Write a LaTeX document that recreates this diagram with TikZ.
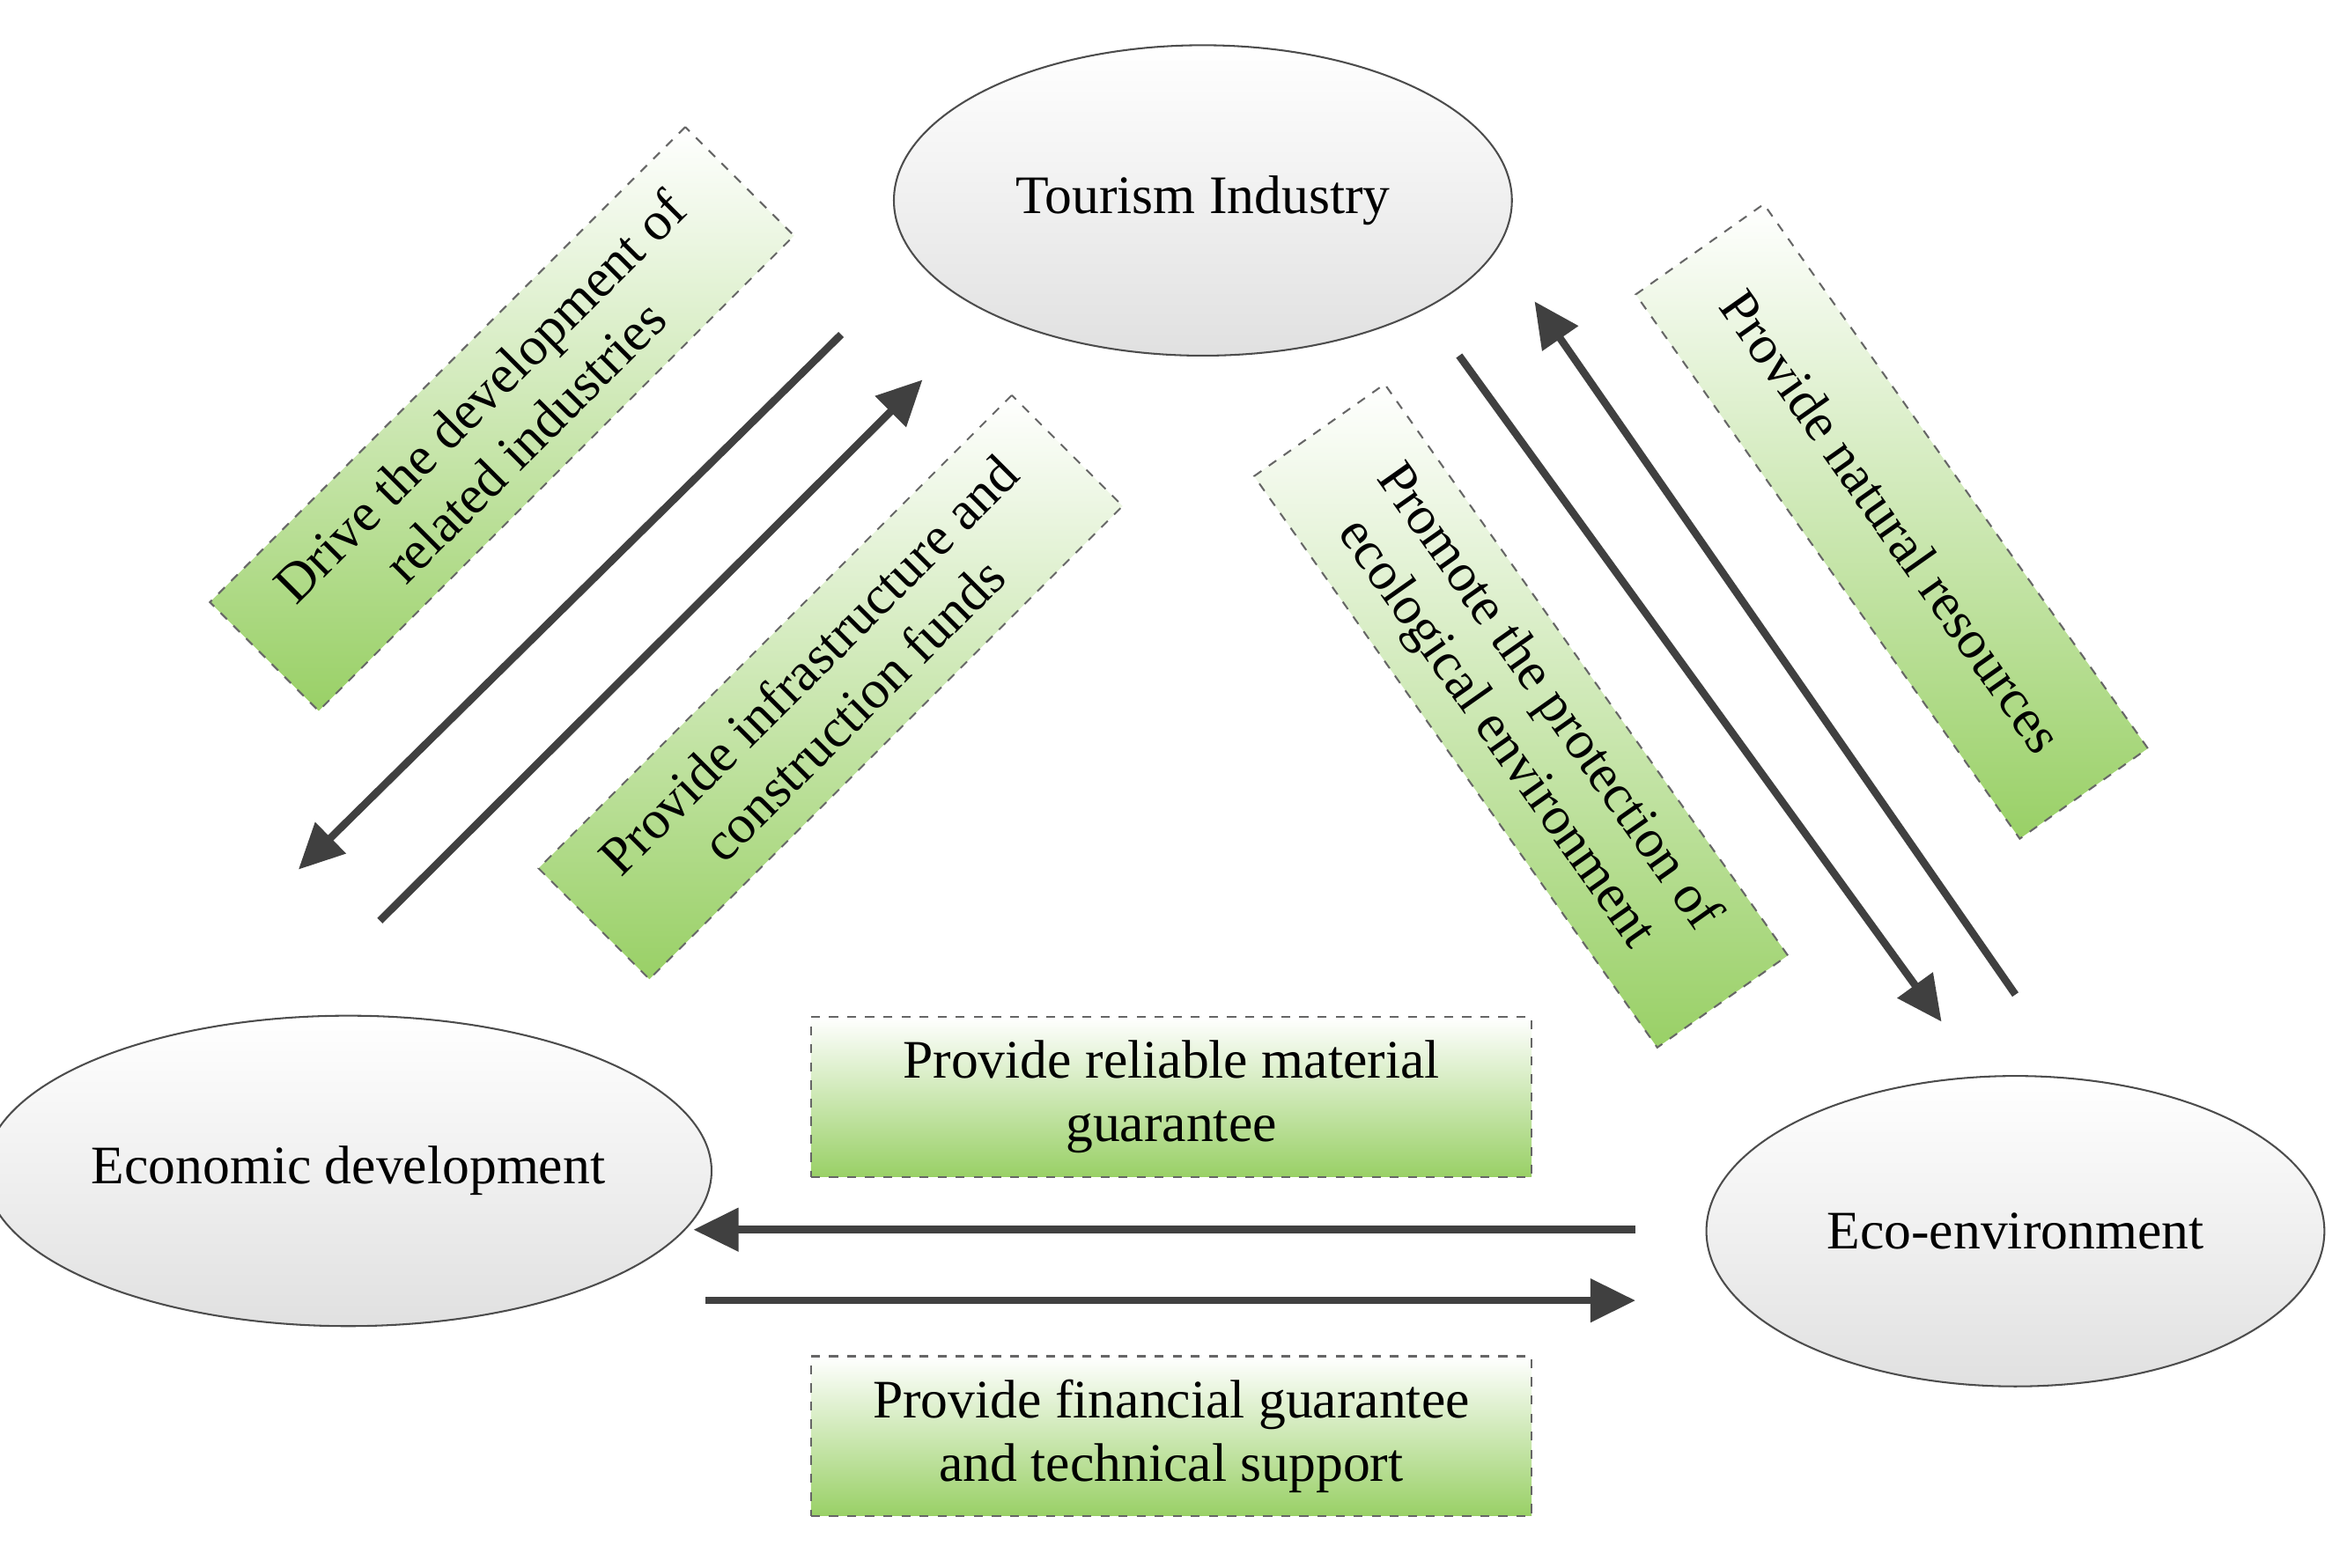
\documentclass[tikz,border=0pt]{standalone}
\usepackage{fontspec}
\setmainfont{Liberation Serif}
\usetikzlibrary{arrows.meta,shapes.geometric}
\definecolor{arr}{HTML}{404040}
\definecolor{grn}{HTML}{99D066}
\begin{document}
\begin{tikzpicture}[x=0.5pt,y=-0.5pt,
  ell/.style={ellipse,draw=black!70,line width=0.6pt,top color=white,bottom color=black!12,inner sep=0pt,minimum width=205pt,minimum height=103pt,font=\fontsize{18}{21}\selectfont},
  box/.style={draw=black!60,dashed,line width=0.6pt,top color=white,bottom color=grn,align=center,inner sep=0pt,font=\fontsize{18}{21}\selectfont},
  ar/.style={draw=arr,line width=2.5pt,-{Triangle[length=15pt,width=14pt]}}]
\useasboundingbox (0,0) rectangle (1557,1040);
\node[ell] (t) at (798,133) {Tourism Industry};
\node[ell] (e) at (231,777) {Economic development};
\node[ell] (v) at (1337,817) {Eco-environment};
\node[box,rotate=45,minimum width=223pt,minimum height=51pt] (b1) at (333,278) {Drive the development of\\related industries};
\node[box,rotate=45,minimum width=222pt,minimum height=52pt] (b2) at (551,456) {Provide infrastructure and\\construction funds};
\node[box,rotate=-54.8,minimum width=232pt,minimum height=53pt] (b3) at (1009,475) {Promote the protection of\\ecological environment};
\node[box,rotate=-54.8,minimum width=221pt,minimum height=52pt] (b4) at (1255,346) {Provide natural resources};
\node[box,minimum width=239pt,minimum height=53pt] (b5) at (777,728) {Provide reliable material\\guarantee};
\node[box,minimum width=239pt,minimum height=53pt] (b6) at (777,953) {Provide financial guarantee\\and technical support};
\coordinate (a1s) at (558,222); \coordinate (a1e) at (198,577);
\coordinate (a2s) at (252,611); \coordinate (a2e) at (612,252);
\coordinate (a3s) at (968,236); \coordinate (a3e) at (1288,678);
\coordinate (a4s) at (1337,660); \coordinate (a4e) at (1018,200);
\coordinate (a5s) at (1085,816); \coordinate (a5e) at (460,816);
\coordinate (a6s) at (468,863); \coordinate (a6e) at (1085,863);
\draw[ar] (a1s) -- (a1e);
\draw[ar] (a2s) -- (a2e);
\draw[ar] (a3s) -- (a3e);
\draw[ar] (a4s) -- (a4e);
\draw[ar] (a5s) -- (a5e);
\draw[ar] (a6s) -- (a6e);
\end{tikzpicture}
\end{document}
